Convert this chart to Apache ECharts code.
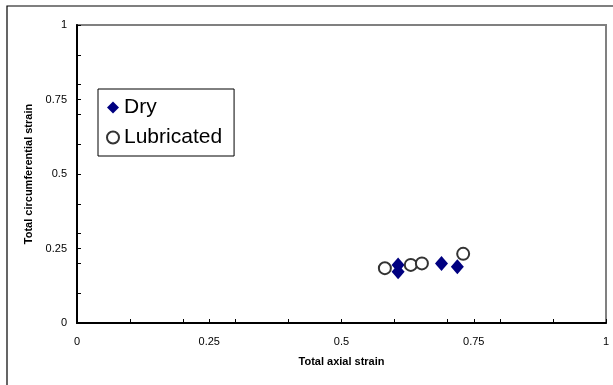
<!DOCTYPE html>
<html><head><meta charset="utf-8">
<script src="https://cdn.jsdelivr.net/npm/echarts@6/dist/echarts.min.js"></script>
<style>html,body{margin:0;padding:0;background:#fff}#c{width:613px;height:385px}</style>
</head><body><div id="c"></div>
<script>
const dryX = [0.607, 0.607, 0.689, 0.719];
const dryY = [0.195, 0.172, 0.200, 0.189];
const lubX = [0.582, 0.631, 0.652, 0.730];
const lubY = [0.184, 0.195, 0.200, 0.232];
const majorTicks = [0, 0.25, 0.5, 0.75, 1];
const seriesNames = ['Dry', 'Lubricated'];
const xName = 'Total axial strain';
const yName = 'Total circumferential strain';

const chart = echarts.init(document.getElementById('c'));
const fmt = v => { const s = majorTicks.find(t => Math.abs(t - v) < 1e-9); return s === undefined ? '' : String(s); };
const lblStyle = {color:'#000', fontFamily:'Arial, Liberation Sans', fontSize:11};
const nameStyle = {color:'#000', fontFamily:'Arial, Liberation Sans', fontSize:11, fontWeight:'bold'};
chart.setOption({
  animation:false,
  graphic:[{type:'rect', shape:{x:7, y:6, width:700, height:500}, style:{fill:'none', stroke:'#000', lineWidth:1.2}, silent:true}],
  grid:{left:77, top:25, right:7, bottom:62, show:true, borderColor:'#808080', borderWidth:2, backgroundColor:'#fff'},
  legend:{
    orient:'vertical', left:98, top:89, data:seriesNames,
    backgroundColor:'#fff', borderColor:'#000', borderWidth:1,
    padding:[8,12,8,8], itemGap:9, itemWidth:12, itemHeight:12,
    textStyle:{fontFamily:'Arial, Liberation Sans', fontSize:21, color:'#000'}
  },
  xAxis:[
    {type:'value', min:0, max:1, interval:0.25, position:'bottom',
     name:xName, nameLocation:'middle', nameGap:33, nameTextStyle:nameStyle,
     axisLine:{show:true, onZero:false, lineStyle:{color:'#000', width:2}},
     axisTick:{show:true, inside:true, length:4, lineStyle:{color:'#000', width:1}},
     axisLabel:{...lblStyle, margin:13, formatter:fmt},
     splitLine:{show:false}},
    {type:'value', min:0, max:1, interval:0.1, position:'bottom',
     axisLine:{show:false}, axisTick:{show:true, inside:true, length:4, lineStyle:{color:'#000'}},
     axisLabel:{show:false}, splitLine:{show:false}}
  ],
  yAxis:[
    {type:'value', min:0, max:1, interval:0.25, position:'left',
     name:yName, nameLocation:'middle', nameGap:43, nameTextStyle:nameStyle,
     axisLine:{show:true, onZero:false, lineStyle:{color:'#000', width:2}},
     axisTick:{show:true, inside:true, length:4, lineStyle:{color:'#000', width:1}},
     axisLabel:{...lblStyle, margin:10, formatter:fmt},
     splitLine:{show:false}},
    {type:'value', min:0, max:1, interval:0.1, position:'left',
     axisLine:{show:false}, axisTick:{show:true, inside:true, length:4, lineStyle:{color:'#000'}},
     axisLabel:{show:false}, splitLine:{show:false}}
  ],
  series:[
    {name:seriesNames[0], type:'scatter', symbol:'diamond', symbolSize:[13,15],
     itemStyle:{color:'#000080', opacity:1}, data:dryX.map((x,i)=>[x, dryY[i]])},
    {name:seriesNames[1], type:'scatter', symbol:'circle', symbolSize:12,
     itemStyle:{color:'#fff', borderColor:'#333', borderWidth:2, opacity:1}, data:lubX.map((x,i)=>[x, lubY[i]])}
  ]
});
</script></body></html>
